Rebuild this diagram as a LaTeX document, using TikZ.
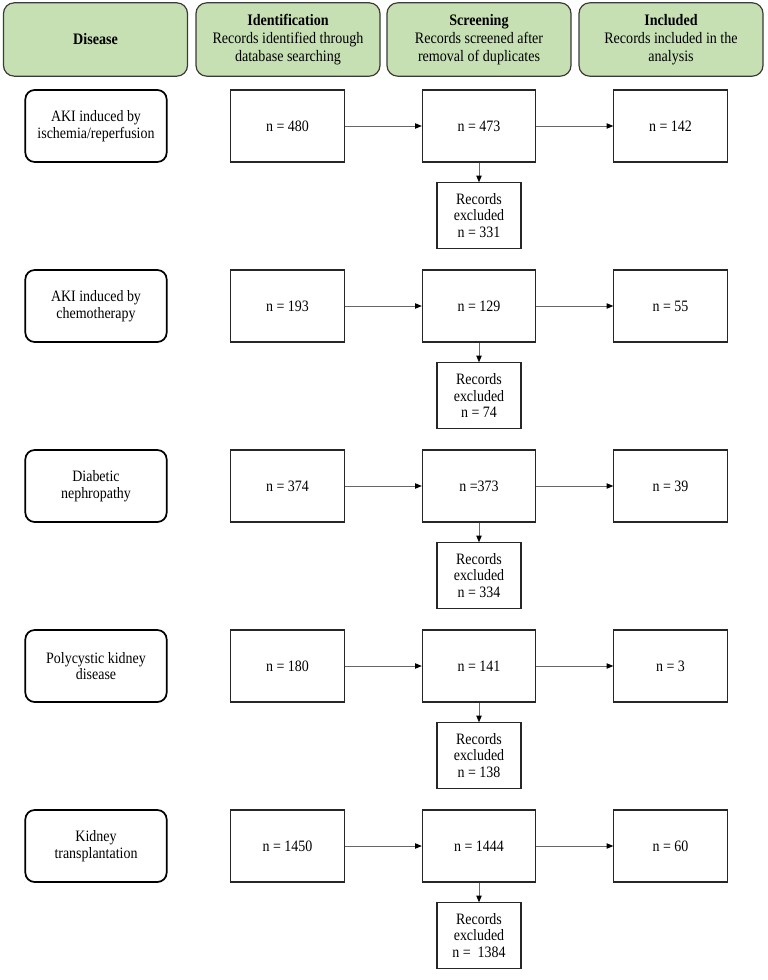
\documentclass[tikz,border=0pt]{standalone}
\usepackage{fontspec}
\setmainfont{Liberation Serif}[FakeStretch=0.88]
\usetikzlibrary{arrows.meta}
\definecolor{hdrgreen}{HTML}{C6E0B4}
\definecolor{hdrline}{HTML}{3A3A3A}
\begin{document}
\begin{tikzpicture}[x=0.75pt,y=-0.75pt,
  font=\fontsize{11.9}{12.5}\selectfont,
  hdr/.style={draw=hdrline,line width=0.9pt,fill=hdrgreen,rounded corners=8pt,
    minimum width=138pt,minimum height=55pt,align=center,inner sep=1pt,
    font=\fontsize{12}{13.5}\selectfont},
  dis/.style={draw=black,line width=1.3pt,rounded corners=7pt,
    minimum width=106pt,minimum height=54pt,align=center,inner sep=1pt},
  num/.style={draw=black!85,line width=0.8pt,minimum width=85pt,minimum height=54pt,align=center},
  exc/.style={draw=black!85,line width=0.8pt,minimum width=63pt,minimum height=49pt,align=center,inner sep=1pt},
  arr/.style={draw=black!60,line width=0.6pt,-{Triangle[length=5pt,width=4pt,fill=black,color=black]}}
  ]
\useasboundingbox (0,0) rectangle (767,980);
% headers
\node[hdr] (h1) at (95.5,39.5) {\textbf{Disease}};
\node[hdr] (h2) at (288,39.5) {\textbf{Identification}\\Records identified through\\database searching};
\node[hdr] (h3) at (479,39.5) {\textbf{Screening}\\Records screened after\\removal of duplicates};
\node[hdr] (h4) at (671,39.5) {\textbf{Included}\\Records included in the\\analysis};
% rows
\foreach \i/\d/\a/\b/\c/\e in {
  1/{AKI induced by\\ischemia/reperfusion}/{n = 480}/{n = 473}/{n = 142}/{n = 331},
  2/{AKI induced by\\chemotherapy}/{n = 193}/{n = 129}/{n = 55}/{n = 74},
  3/{Diabetic\\nephropathy}/{n = 374}/{n =373}/{n = 39}/{n = 334},
  4/{Polycystic kidney\\disease}/{n = 180}/{n = 141}/{n = 3}/{n = 138},
  5/{Kidney\\transplantation}/{n = 1450}/{n = 1444}/{n = 60}/{n =\ \ 1384}}{
  \pgfmathsetmacro{\yy}{126+180*(\i-1)}
  \node[dis] (d\i) at (96,\yy) {\d};
  \node[num] (a\i) at (287.5,\yy) {\a};
  \node[num] (b\i) at (479,\yy) {\b};
  \node[num] (c\i) at (670.5,\yy) {\c};
  \node[exc] (e\i) at (479,\yy+89.5) {Records\\excluded\\\e};
  \draw[arr] (a\i) -- (b\i);
  \draw[arr] (b\i) -- (c\i);
  \draw[arr] (b\i) -- (e\i);
}
\end{tikzpicture}
\end{document}
